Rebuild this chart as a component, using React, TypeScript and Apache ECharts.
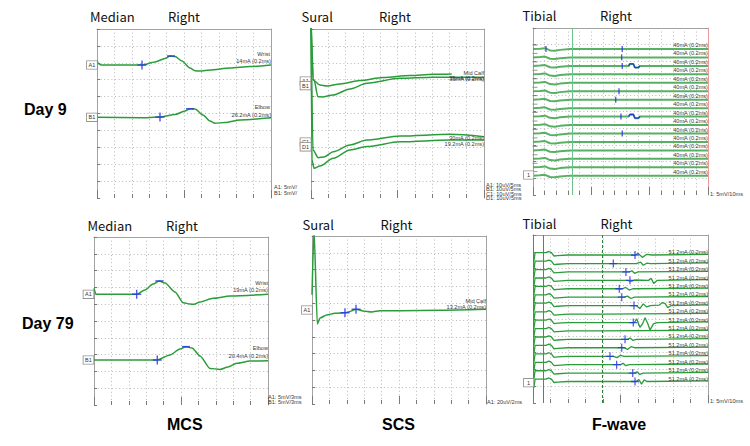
import React, { useEffect, useRef } from "react";
import * as echarts from "echarts";

// ---------- recorded traces (time in ms, amplitude in screen divisions) ----------

// MCS, day 9
const mcsDay9Wrist = [[0, 8.11], [0.34, 7.93], [0.69, 7.87], [7.76, 7.87], [10.0, 8.05], [11.72, 8.25], [12.59, 8.4], [13.45, 8.37], [14.65, 8.11], [16.03, 7.69], [16.9, 7.53], [17.76, 7.51], [19.48, 7.57], [22.93, 7.69], [26.38, 7.78], [30, 7.87]];
const mcsDay9Elbow = [[0, 4.78], [7.41, 4.75], [10.86, 4.79], [13.45, 4.94], [15.17, 5.15], [16.03, 5.28], [16.9, 5.26], [18.28, 4.91], [19.48, 4.56], [20.34, 4.42], [22.07, 4.47], [24.66, 4.62], [30, 4.75]];
const mcsDay9Onset = [[7.76, 7.87], [10.86, 4.79]];
const mcsDay9Peak = [[12.76, 8.4], [16.03, 5.28]];

// MCS, day 79
const mcsDay79Wrist = [[0, 6.95], [0.34, 6.59], [7.36, 6.59], [8.79, 6.85], [10.17, 7.2], [11.26, 7.38], [12.24, 7.26], [13.96, 6.73], [15.4, 6.09], [16.55, 6.01], [17.24, 5.99], [18.28, 6.13], [20.52, 6.35], [23.45, 6.49], [30, 6.59]];
const mcsDay79Elbow = [[0, 2.68], [10.91, 2.68], [13.1, 2.98], [14.83, 3.33], [15.86, 3.47], [16.9, 3.39], [18.28, 2.92], [20.0, 2.18], [21.72, 2.12], [23.1, 2.26], [24.6, 2.48], [26.9, 2.62], [30, 2.64]];
const mcsDay79Onset = [[7.36, 6.59], [10.91, 2.68]];
const mcsDay79Peak = [[11.26, 7.38], [15.86, 3.47]];

// SCS, day 9 (four sweeps)
const scsDay9A1 = [[0, 10.53], [0.58, 6.98], [2.6, 6.69], [4.62, 6.63], [8.38, 6.75], [14.16, 6.95], [20.81, 7.13], [28.61, 7.25], [35.26, 7.32], [40.66, 7.34]];
const scsDay9B1 = [[0, 10.53], [0.87, 6.98], [2.02, 5.99], [3.18, 5.98], [6.36, 6.09], [11.27, 6.45], [16.18, 6.79], [25.72, 7.08], [35.26, 7.14], [50, 7.14]];
const scsDay9C1 = [[0, 10.53], [0.58, 2.84], [2.11, 2.38], [3.76, 2.43], [6.44, 2.74], [11.27, 3.14], [16.1, 3.43], [25.72, 3.67], [40.17, 3.77], [50, 3.63]];
const scsDay9D1 = [[0, 10.53], [0.29, 2.25], [0.87, 1.76], [2.6, 1.89], [6.44, 2.35], [11.27, 2.84], [16.1, 3.04], [25.72, 3.33], [40.17, 3.43], [50, 3.43]];

// SCS, day 79
const scsDay79A1 = [[0, 6.5], [0.23, 10.4], [0.61, 4.76], [0.92, 5.12], [1.69, 5.3], [2.64, 5.4], [3.79, 5.43], [4.37, 5.51], [5.06, 5.64], [5.86, 5.54], [6.86, 5.48], [7.82, 5.55], [10.11, 5.55], [14.71, 5.58], [20, 5.64]];
const scsDay79Marks = [[3.79, 5.43], [5.06, 5.64]];

// F-wave, day 9: sweep baselines, common M response, marked responses
const fwDay9Baselines = [8.74, 8.24, 7.73, 7.23, 6.72, 6.21, 5.71, 5.2, 4.7, 4.19, 3.68, 3.18, 2.67, 2.17, 1.66, 1.16];
const fwDay9MWave = [[0, 0], [6, 0.02], [10.3, 0.05], [14.6, -0.08], [18.9, -0.1], [23.1, -0.05], [31.7, 0]];
const fwDay9Response = [[82, 0], [83.1, 0.12], [86, 0.12], [87.4, -0.1], [90.2, -0.1], [91.7, 0]];
const fwDay9ResponseSweeps = [2, 8];
const fwDay9MarkSweeps = [0, 0, 1, 2, 5, 6, 8, 10];
const fwDay9MarkTimes = [11.1, 76.5, 76.0, 76.5, 73.7, 70.9, 75.4, 76.5];
const fwDay9Cursor = 33.7;

// F-wave, day 79
const fwDay79Baselines = [8.95, 8.44, 7.94, 7.44, 6.94, 6.44, 5.94, 5.43, 4.93, 4.43, 3.93, 3.43, 2.92, 2.42, 1.92, 1.42];
const fwDay79MWave = [[0.5, -0.5], [1.2, 0], [7.4, 0], [9.1, 0.07], [10.5, 0], [12, -0.2], [14, -0.18], [20, -0.14], [40, -0.14]];
const fwDay79Tail = [[100, -0.1]];
const fwDay79Responses = [
  [[56, -0.14], [58.3, -0.16], [60, -0.04], [62.5, -0.28], [65, -0.1], [68, -0.14]],
  [[59, -0.14], [61.5, -0.05], [63, -0.24], [65, -0.12], [67, -0.14]],
  [[55, -0.14], [56.5, -0.07], [58, -0.22], [60, -0.14]],
  [[54, -0.14], [56, -0.2], [58, -0.12], [66, -0.14], [67.5, -0.02], [69, -0.32], [71, -0.14]],
  [[51, -0.14], [53, -0.06], [55, -0.22], [57, -0.14]],
  [[52, -0.14], [54, -0.08], [56, -0.22], [58, -0.14]],
  [[59, -0.14], [61, -0.32], [63, -0.04], [65, -0.22], [67, -0.14], [72, -0.12], [74, 0.04], [75.5, -0.02], [77, -0.26], [79, -0.14]],
  [],
  [[58, -0.14], [59.2, 0.08], [61.1, -0.42], [62.6, -0.22], [64, 0.14], [65.5, -0.18], [66.9, -0.58], [68.8, -0.22], [71, -0.14]],
  [],
  [[54, -0.14], [55.5, -0.06], [57, -0.2], [59, -0.14]],
  [[52, -0.14], [54, -0.24], [56, -0.08], [58, -0.14]],
  [[46, -0.14], [48, -0.22], [50, -0.08], [52, -0.14]],
  [[50, -0.14], [51.5, -0.06], [53, -0.2], [55, -0.14]],
  [[58, -0.14], [59.5, -0.06], [61, -0.22], [63, -0.14]],
  [[59, -0.14], [60.5, -0.02], [62, -0.3], [63.5, -0.04], [65, -0.14]],
];
const fwDay79MarkSweeps = [0, 1, 2, 3, 4, 5, 6, 8, 10, 11, 12, 13, 14, 15];
const fwDay79MarkTimes = [58.3, 45.9, 53.1, 55.4, 49.3, 50.7, 57.7, 57.3, 52.6, 50.7, 44.0, 47.8, 57.0, 58.3];
const fwDay79MarkLevel = -0.14;
const fwDay79Stim = 5.9;
const fwDay79Cursor = 39.8;

// ---------- layout / styles ----------
const W = 750;
const H = 446;
const GREEN = "#2a9d3a";
const BLUE = "#2535e4";
const BORDER = "#a2a2a2";
const DOT = { type: [1, 2.6], color: "#b9b9b9", width: 1 };
const FONT_T = "'Noto Sans CJK JP', 'Noto Sans', sans-serif";
const FONT_S = "'Liberation Sans', Arial, sans-serif";
const PLUS = "path://M4.2,0h1.6v4.2h4.2v1.6h-4.2v4.2h-1.6v-4.2h-4.2v-1.6h4.2z";

const PANELS = [
  { left: 97, top: 29, width: 174, height: 169, xMax: 30, xStep: 3, leftColor: BORDER, rightColor: BORDER },
  { left: 311, top: 29, width: 173, height: 169, xMax: 50, xStep: 5, leftColor: BORDER, rightColor: BORDER },
  { left: 533, top: 28, width: 175, height: 167, xMax: 150, xStep: 10, leftColor: "#b99a9a", rightColor: "#ea9a9a" },
  { left: 94, top: 237, width: 174, height: 168, xMax: 30, xStep: 3, leftColor: BORDER, rightColor: BORDER },
  { left: 312, top: 236, width: 174, height: 168, xMax: 20, xStep: 2, leftColor: BORDER, rightColor: BORDER },
  { left: 533, top: 235, width: 175, height: 168, xMax: 100, xStep: 10, leftColor: "#c85050", rightColor: BORDER },
];

const pyOf = (p: number, v: number) => PANELS[p].top + ((10 - v) / 10) * PANELS[p].height;

function text(x: number, y: number, s: string, size: number, o: any = {}) {
  return {
    type: "text",
    x,
    y,
    silent: true,
    z: 10,
    style: {
      text: s,
      fontSize: size,
      fontFamily: o.family ?? FONT_S,
      fontWeight: o.weight ?? "normal",
      fill: o.fill ?? "#333",
      align: o.align ?? "left",
      verticalAlign: "middle",
    },
  };
}

function chanBox(x: number, y: number, s: string) {
  return {
    type: "text",
    x,
    y,
    silent: true,
    z: 10,
    style: {
      text: s,
      fontSize: 5.5,
      fontFamily: FONT_S,
      fill: "#333",
      align: "left",
      verticalAlign: "middle",
      backgroundColor: "#fff",
      borderColor: "#8a8a8a",
      borderWidth: 0.8,
      padding: [1, 1.6, 0.6, 1.6],
    },
  };
}

function vLine(value: number, color: string, type: any) {
  return {
    silent: true,
    symbol: "none",
    label: { show: false },
    lineStyle: { color, type, width: 1 },
    emphasis: { disabled: true },
    data: [{ xAxis: value }],
  };
}

function buildOption() {
  const grid = PANELS.map((p) => ({ left: p.left, top: p.top, width: p.width, height: p.height, show: false }));
  const xAxis: any[] = [];
  const yAxis: any[] = [];
  PANELS.forEach((p, i) => {
    xAxis.push({
      gridIndex: i, type: "value", min: 0, max: p.xMax, interval: p.xStep * 5,
      axisLine: { show: false, onZero: false },
      axisTick: { show: true, inside: true, length: 8, lineStyle: { color: "#7a7a7a" } },
      minorTick: { show: true, splitNumber: 5, length: 4, lineStyle: { color: "#7a7a7a" } },
      axisLabel: { show: false },
      splitLine: { show: true, showMinLine: false, showMaxLine: false, lineStyle: DOT },
      minorSplitLine: { show: true, lineStyle: DOT },
    });
    xAxis.push({
      gridIndex: i, type: "value", position: "top", min: 0, max: p.xMax,
      axisLine: { show: true, onZero: false, lineStyle: { color: BORDER } },
      axisTick: { show: false }, axisLabel: { show: false }, splitLine: { show: false },
    });
    yAxis.push({
      gridIndex: i, type: "value", min: 0, max: 10, interval: 1, position: "left",
      axisLine: { show: true, onZero: false, lineStyle: { color: p.leftColor } },
      axisTick: { show: true, inside: true, length: 3, lineStyle: { color: "#7a7a7a" } },
      axisLabel: { show: false },
      splitLine: { show: true, showMinLine: false, showMaxLine: false, lineStyle: DOT },
    });
    yAxis.push({
      gridIndex: i, type: "value", min: 0, max: 10, position: "right",
      axisLine: { show: true, onZero: false, lineStyle: { color: p.rightColor } },
      axisTick: { show: false }, axisLabel: { show: false }, splitLine: { show: false },
    });
  });

  const series: any[] = [];
  const line = (p: number, data: number[][], o: any = {}) => {
    const s: any = {
      type: "line", xAxisIndex: p * 2, yAxisIndex: p * 2, data, showSymbol: false, symbol: "none",
      smooth: o.smooth ?? 0, smoothMonotone: "x", clip: true, silent: true, z: o.z ?? 2,
      lineStyle: { color: o.color ?? GREEN, width: o.width ?? 1.5, opacity: o.opacity ?? 1 },
    };
    if (o.markLine) s.markLine = o.markLine;
    series.push(s);
  };
  const marks = (p: number, data: number[][], symbol: string, size: any) => {
    series.push({
      type: "scatter", xAxisIndex: p * 2, yAxisIndex: p * 2, data, symbol, symbolSize: size,
      silent: true, z: 5, itemStyle: { color: BLUE },
    });
  };

  // MCS
  line(0, mcsDay9Wrist, { smooth: 0.25 });
  line(0, mcsDay9Elbow, { smooth: 0.25 });
  marks(0, mcsDay9Onset, PLUS, 9);
  marks(0, mcsDay9Peak, "rect", [8, 1.6]);
  line(3, mcsDay79Wrist, { smooth: 0.25 });
  line(3, mcsDay79Elbow, { smooth: 0.25 });
  marks(3, mcsDay79Onset, PLUS, 9);
  marks(3, mcsDay79Peak, "rect", [8, 1.6]);

  // SCS
  [scsDay9A1, scsDay9B1, scsDay9C1, scsDay9D1].forEach((d) => line(1, d, { smooth: 0.3 }));
  line(4, scsDay79A1, { smooth: 0.2 });
  marks(4, scsDay79Marks, PLUS, 9);

  // F-wave, day 9
  fwDay9Baselines.forEach((b, i) => {
    const extra = fwDay9ResponseSweeps.includes(i) ? fwDay9Response : [];
    const d = [...fwDay9MWave, ...extra, [PANELS[2].xMax, 0]].map(([x, y]) => [x, b + y]);
    line(2, d, {
      color: "#45a852", width: 2, opacity: 0.9,
      markLine: i === 0 ? vLine(fwDay9Cursor, "#6cc48c", "solid") : undefined,
    });
    if (extra.length) line(2, extra.map(([x, y]) => [x, b + y]), { color: BLUE, width: 1.3, z: 4 });
  });
  series.push({
    type: "scatter", xAxisIndex: 4, yAxisIndex: 4, silent: true, z: 3, symbol: "rect", symbolSize: [5, 1],
    itemStyle: { color: "#7d7d7d" }, data: fwDay9Baselines.map((b) => [1.7, b + 0.24]),
  });
  marks(2, fwDay9MarkSweeps.map((s, k) => [fwDay9MarkTimes[k], fwDay9Baselines[s]]), "rect", [1.4, 6]);

  // F-wave, day 79
  fwDay79Baselines.forEach((b, i) => {
    const d = [...fwDay79MWave, ...fwDay79Responses[i], ...fwDay79Tail].map(([x, y]) => [x, b + y]);
    let ml: any;
    if (i === 0) ml = vLine(fwDay79Stim, "#d24b4b", "solid");
    if (i === 1) ml = vLine(fwDay79Cursor, "#2f7f3a", [3, 2]);
    line(5, d, { width: 1.3, markLine: ml });
  });
  marks(5, fwDay79MarkSweeps.map((s, k) => [fwDay79MarkTimes[k], fwDay79Baselines[s] + fwDay79MarkLevel]), PLUS, 8);

  // ---------- text ----------
  const g: any[] = [];
  const title = (x: number, y: number, s: string) => g.push(text(x, y, s, 13, { family: FONT_T, fill: "#111" }));
  title(90, 16.5, "Median"); title(168, 16.5, "Right");
  title(301.5, 16.5, "Sural"); title(379, 16.5, "Right");
  title(522.5, 15.7, "Tibial"); title(600, 15.7, "Right");
  title(87.5, 225, "Median"); title(166, 225, "Right");
  title(302.5, 224, "Sural"); title(380.5, 224, "Right");
  title(522.5, 223.5, "Tibial"); title(600.5, 223.5, "Right");

  const big = (x: number, y: number, s: string) => g.push(text(x, y, s, 16, { weight: "bold", fill: "#000" }));
  big(24, 109, "Day 9"); big(22, 323, "Day 79");
  big(167, 424, "MCS"); big(382, 424, "SCS"); big(592, 424, "F-wave");

  const small = (x: number, y: number, s: string, align = "right") => g.push(text(x, y, s, 5.6, { align, fill: "#3a3a3a" }));
  small(270, 54, "Wrist"); small(271, 61.3, "14mA (0.2ms)");
  small(270, 107, "Elbow"); small(271, 114.7, "26.2mA (0.2ms)");
  small(274, 186.5, "A1: 5mV/", "left"); small(274, 192.5, "B1: 5mV/", "left");
  small(268, 283.3, "Wrist"); small(268, 290, "19mA (0.2ms)");
  small(268, 348.3, "Elbow"); small(268, 355.7, "20.4mA (0.2ms)");
  small(268, 396.5, "A1: 5mV/3ms", "left"); small(268, 401.7, "B1: 5mV/3ms", "left");
  small(484, 72.7, "Mid Calf"); small(484, 78.3, "35mA (0.2ms)"); small(484.4, 79, "35mA (0.2ms)");
  small(484, 138.3, "30mA (0.2ms)"); small(484, 144, "19.2mA (0.2ms)");
  small(486, 184.5, "A1: 10uV/5ms", "left"); small(486, 189, "B1: 10uV/5ms", "left");
  small(486, 193.5, "C1: 10uV/5ms", "left"); small(486, 198, "D1: 10uV/5ms", "left");
  small(486, 301, "Mid Calf"); small(486, 307.3, "13.2mA (0.2ms)");
  small(487, 401.7, "A1: 20uV/2ms", "left");
  small(710, 194, "1: 5mV/10ms", "left");
  small(710, 401, "1: 5mV/10ms", "left");
  fwDay9Baselines.forEach((b) => small(708, pyOf(2, b) - 4, "40mA (0.2ms)"));
  fwDay79Baselines.forEach((b) => small(708, pyOf(5, b) - 0.5, "51.2mA (0.2ms)"));

  g.push(chanBox(87, 65, "A1")); g.push(chanBox(87, 117.3, "B1"));
  g.push(chanBox(83.5, 294.3, "A1")); g.push(chanBox(83.5, 360, "B1"));
  g.push(chanBox(300.5, 81, "A1")); g.push(chanBox(300.5, 85.6, "B1"));
  g.push(chanBox(300.5, 142, "C1")); g.push(chanBox(300.5, 146.8, "D1"));
  g.push(chanBox(302, 310, "A1"));
  g.push(chanBox(524, 175, " 1 ")); g.push(chanBox(524, 382.7, " 1 "));

  return {
    animation: false,
    backgroundColor: "#ffffff",
    grid, xAxis, yAxis, series, graphic: g,
  };
}

export default function App() {
  const ref = useRef<HTMLDivElement>(null);
  useEffect(() => {
    if (!ref.current) return;
    const chart = echarts.init(ref.current, null, { renderer: "svg", width: W, height: H });
    chart.setOption(buildOption() as any);
    return () => chart.dispose();
  }, []);
  return <div ref={ref} style={{ position: "fixed", left: 0, top: 0, width: W, height: H, background: "#fff" }} />;
}
